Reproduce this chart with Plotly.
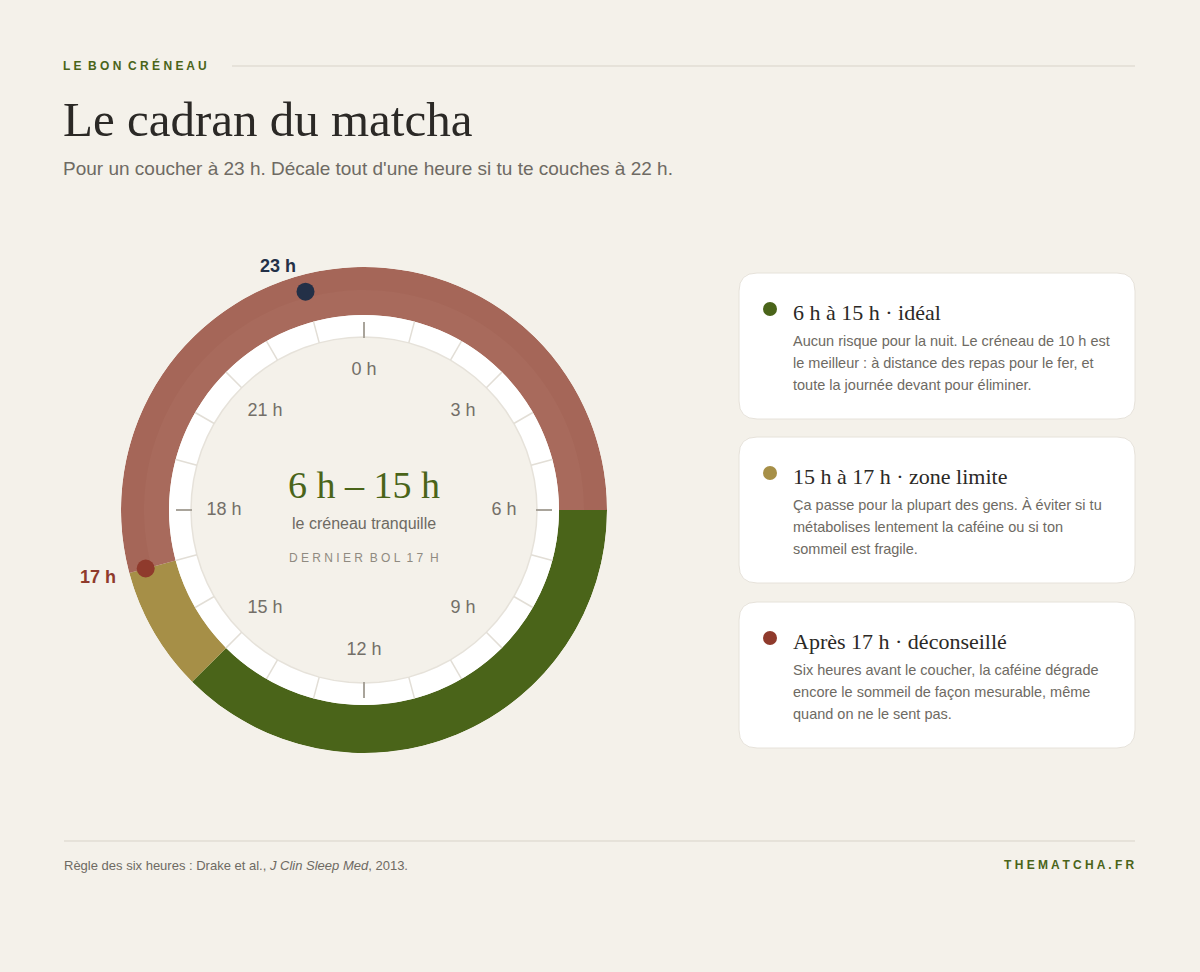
import plotly.graph_objects as go

W, H = 1200, 972
BG = "#f4f1ea"
GREEN = "#4a6419"
OLIVE = "#a68f47"
RED = "#a86a5c"
DARK = "#8f3a2c"
NAVY = "#233047"

# segments of the day (hours, clockwise from 0 h at top)
seg_names = ["idéal", "zone limite", "déconseillé"]
seg_start = [6, 15, 17]
seg_end = [15, 17, 30]
seg_colors = [GREEN, OLIVE, RED]

hour_labels = ["0 h", "3 h", "6 h", "9 h", "12 h", "15 h", "18 h", "21 h"]
hour_label_pos = [0, 3, 6, 9, 12, 15, 18, 21]

marker_hours = [23, 17]
marker_labels = ["23 h", "17 h"]
marker_colors = [NAVY, DARK]

card_titles = ["6 h à 15 h · idéal", "15 h à 17 h · zone limite", "Après 17 h · déconseillé"]
card_texts = [
    ["Aucun risque pour la nuit. Le créneau de 10 h est",
     "le meilleur : à distance des repas pour le fer, et",
     "toute la journée devant pour éliminer."],
    ["Ça passe pour la plupart des gens. À éviter si tu",
     "métabolises lentement la caféine ou si ton",
     "sommeil est fragile."],
    ["Six heures avant le coucher, la caféine dégrade",
     "encore le sommeil de façon mesurable, même",
     "quand on ne le sent pas."],
]
card_dots = [GREEN, OLIVE, DARK]


def deg(h):
    return h * 15.0


def px(x):
    return x / W


def py(y):
    return 1 - y / H


fig = go.Figure()

# colored band
for s, e, c, n in zip(seg_start, seg_end, seg_colors, seg_names):
    fig.add_trace(go.Barpolar(
        theta=[deg((s + e) / 2)], width=[deg(e - s)], r=[48], base=[195],
        marker=dict(color=c, line=dict(width=0)), name=n, hoverinfo="skip"))
# subtle inner shade on band
fig.add_trace(go.Barpolar(
    theta=[deg(23.5)], width=[deg(13)], r=[23], base=[220],
    marker=dict(color="rgba(120,50,40,0.06)", line=dict(width=0)), hoverinfo="skip"))

# white tick ring
fig.add_trace(go.Barpolar(
    theta=[0], width=[360], r=[22], base=[173],
    marker=dict(color="white", line=dict(width=0)), hoverinfo="skip"))
fig.add_trace(go.Scatterpolar(
    r=[173] * 73, theta=[i * 5 for i in range(73)], mode="lines",
    line=dict(color="#e6e2da", width=1.5), hoverinfo="skip"))

# minor ticks
for h in range(24):
    if h % 6 == 0:
        continue
    fig.add_trace(go.Scatterpolar(
        r=[173, 195], theta=[deg(h), deg(h)], mode="lines",
        line=dict(color="#e2ded6", width=1.5), hoverinfo="skip"))
# major ticks
for h in [0, 6, 12, 18]:
    fig.add_trace(go.Scatterpolar(
        r=[172, 188], theta=[deg(h), deg(h)], mode="lines",
        line=dict(color="#a9a49b", width=2), hoverinfo="skip"))

# hour labels
fig.add_trace(go.Scatterpolar(
    r=[140] * len(hour_label_pos), theta=[deg(h) for h in hour_label_pos],
    mode="text", text=hour_labels,
    textfont=dict(family="Liberation Sans", size=18, color="#736f68"), hoverinfo="skip"))

# markers
fig.add_trace(go.Scatterpolar(
    r=[226] * len(marker_hours), theta=[deg(h) for h in marker_hours], mode="markers",
    marker=dict(size=18, color=marker_colors), hoverinfo="skip"))

fig.update_layout(
    width=W, height=H, paper_bgcolor=BG, plot_bgcolor=BG,
    margin=dict(l=0, r=0, t=0, b=0), showlegend=False,
    polar=dict(
        domain=dict(x=[px(121), px(607)], y=[py(753), py(267)]),
        bgcolor=BG, hole=0, barmode="overlay",
        angularaxis=dict(rotation=90, direction="clockwise", visible=False),
        radialaxis=dict(range=[0, 243], visible=False),
    ),
)

ann = []


def text(x, y, t, size, color, family="Liberation Sans", xanchor="left", yanchor="middle"):
    ann.append(dict(x=px(x), y=py(y), xref="paper", yref="paper", text=t, showarrow=False,
                    xanchor=xanchor, yanchor=yanchor, align="left", borderpad=0,
                    font=dict(family=family, size=size, color=color)))


# header
text(62, 66, "<b>L E  B O N  C R É N E A U</b>", 12, GREEN)
text(62, 119, "Le cadran du matcha", 49, "#2b2926", family="Liberation Serif")
text(62, 168, "Pour un coucher à 23 h. Décale tout d'une heure si tu te couches à 22 h.", 19, "#6e6a63")

# dial centre
text(364, 485, "6 h – 15 h", 38, GREEN, family="Liberation Serif", xanchor="center")
text(364, 523, "le créneau tranquille", 16, "#6e6a63", xanchor="center")
text(364, 558, "D E R N I E R  B O L  1 7  H", 12, "#8f8a80", xanchor="center")

# marker labels
text(278, 266, "<b>23 h</b>", 18, NAVY, xanchor="center")
text(98, 577, "<b>17 h</b>", 18, DARK, xanchor="center")

# cards
shapes = [dict(type="line", xref="paper", yref="paper", x0=px(232), x1=px(1135), y0=py(66), y1=py(66),
               line=dict(color="#d8d3c9", width=1)),
          dict(type="line", xref="paper", yref="paper", x0=px(64), x1=px(1135), y0=py(841), y1=py(841),
               line=dict(color="#d8d3c9", width=1))]
card_tops = [273, 437, 602]
for top, title, body, dc in zip(card_tops, card_titles, card_texts, card_dots):
    x0, x1, y0, y1, rr = 739, 1135, top, top + 146, 18
    path = (f"M {px(x0 + rr)} {py(y0)} L {px(x1 - rr)} {py(y0)} "
            f"Q {px(x1)} {py(y0)} {px(x1)} {py(y0 + rr)} L {px(x1)} {py(y1 - rr)} "
            f"Q {px(x1)} {py(y1)} {px(x1 - rr)} {py(y1)} L {px(x0 + rr)} {py(y1)} "
            f"Q {px(x0)} {py(y1)} {px(x0)} {py(y1 - rr)} L {px(x0)} {py(y0 + rr)} "
            f"Q {px(x0)} {py(y0)} {px(x0 + rr)} {py(y0)} Z")
    shapes.append(dict(type="path", xref="paper", yref="paper", path=path,
                       fillcolor="white", line=dict(color="#e6e2da", width=1), layer="below"))
    shapes.append(dict(type="circle", xref="paper", yref="paper",
                       x0=px(763), x1=px(777), y0=py(top + 29), y1=py(top + 43),
                       fillcolor=dc, line=dict(width=0)))
    text(792, top + 39, title, 22, "#2b2926", family="Liberation Serif")
    for i, line in enumerate(body):
        text(792, top + 68 + 22 * i, line, 14.5, "#6e6a63")

# footer
text(63, 865, "Règle des six heures : Drake et al., <i>J Clin Sleep Med</i>, 2013.", 13, "#6e6a63")
text(1136, 865, "<b>T H E M A T C H A . F R</b>", 12, GREEN, xanchor="right")

fig.update_layout(annotations=ann, shapes=shapes)
fig.write_html("out.html", config={"displayModeBar": False},
               post_script="document.body.style.margin='0';document.body.style.background='" + BG + "';")
